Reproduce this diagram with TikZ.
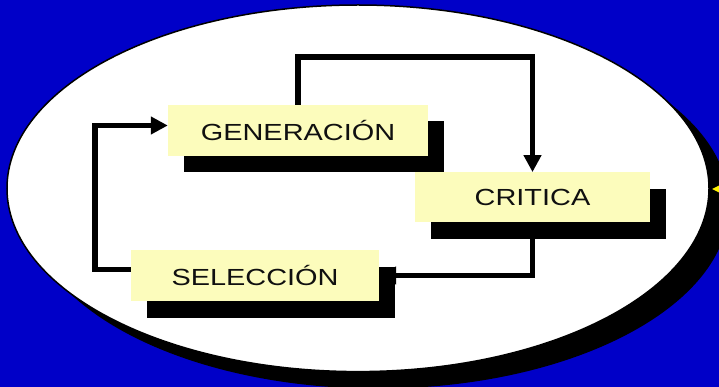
\documentclass[tikz,border=0pt]{standalone}
\usepackage{fontspec}
\usetikzlibrary{arrows.meta,shadows}
\newfontfamily\lblfont[FakeStretch=1.24]{Liberation Sans}
\definecolor{bgblue}{RGB}{0,0,200}
\definecolor{boxyel}{RGB}{252,252,188}
\definecolor{txt}{RGB}{16,16,16}
\pgfdeclarelayer{back}
\pgfdeclarelayer{mid}
\pgfsetlayers{back,mid,main}
\tikzset{
  stepbox/.style={fill=boxyel, inner sep=0pt, text=txt,
    font=\lblfont\fontsize{23.3}{28}\selectfont,
    general shadow={fill=black, shadow xshift=16pt, shadow yshift=-16.5pt}},
  conn/.style={line width=5.5pt, line join=miter, draw=black},
  tip/.style={-{Triangle[length=17pt,width=17pt]}}
}
\begin{document}
\begin{tikzpicture}[x=1pt,y=-1pt]
\useasboundingbox (0,0) rectangle (719,387);
% nodes
\node[stepbox, minimum width=260pt, minimum height=51pt] (gen) at (298,130.5) {GENERACIÓN};
\node[stepbox, minimum width=235pt, minimum height=50pt] (cri) at (532.5,197.3) {CRITICA};
\node[stepbox, minimum width=248pt, minimum height=51pt] (sel) at (255,275.5) {SELECCIÓN};
\coordinate (topy) at (0,57);
\begin{pgfonlayer}{back}
  \fill[bgblue] (0,0) rectangle (719,387);
  \fill[black] (378,205.3) ellipse [x radius=351, y radius=183.3];
  \filldraw[fill=white, draw=black, line width=1.5pt] (358,188.3) ellipse [x radius=351, y radius=183.3];
  \fill[yellow] (712,189) -- (729,180.5) -- (729,197.5) -- cycle;
\end{pgfonlayer}
\begin{pgfonlayer}{mid}
  \draw[conn, tip] (gen.north) |- (cri.north |- topy) -- (cri.north);
  \draw[conn, tip] (cri.south) |- (sel.east);
  \draw[conn, tip] ([yshift=5.8pt]sel.west) -- ++(-36,0) |- ([yshift=5pt]gen.west);
\end{pgfonlayer}
\end{tikzpicture}
\end{document}
